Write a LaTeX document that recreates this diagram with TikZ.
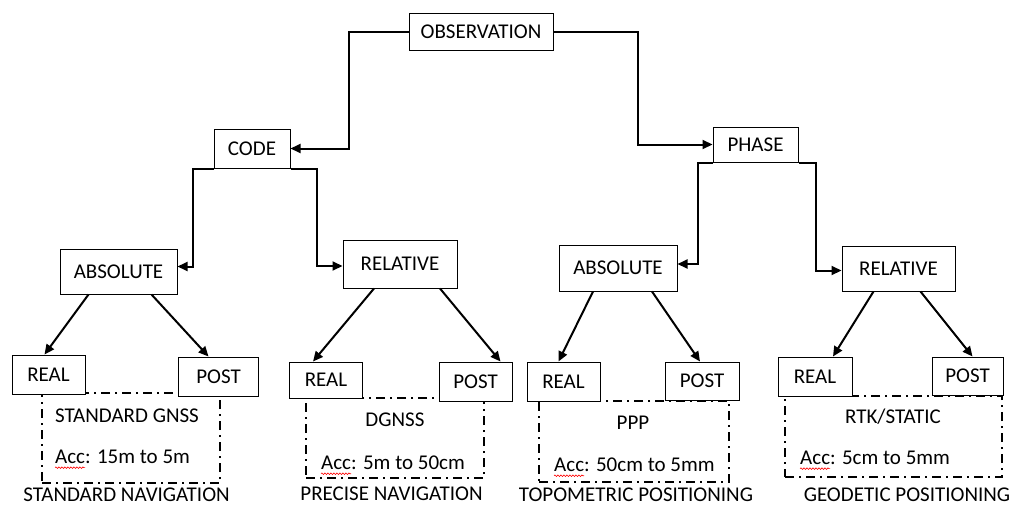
\documentclass[tikz,border=0pt]{standalone}
\usepackage{fontspec}
\setmainfont{Carlito}
\usepackage{tikz}
\usetikzlibrary{arrows.meta, decorations.pathmorphing}

\tikzset{
  box/.style={draw, line width=1pt, fill=white, inner sep=0pt},
  dashbox/.style={draw, line width=2.2pt, inner sep=0pt,
    dash pattern=on 9pt off 5pt on 2pt off 5pt},
  link/.style={->, line width=2pt},
  txt/.style={inner sep=0pt},
  spell/.style={red, line width=0.6pt, decorate,
    decoration={snake, amplitude=0.8pt, segment length=3pt}}
}

\begin{document}
\begin{tikzpicture}[x=1pt, y=-1pt, font=\fontsize{21}{24}\selectfont,
    >={Triangle[length=10pt, width=9pt]}]
    \useasboundingbox (0, 0) rectangle (1011, 506);

    % dashed groups
    \node[dashbox, minimum width=178, minimum height=90] at (131, 438) (grp1) {};
    \node[dashbox, minimum width=178, minimum height=80] at (395, 438) (grp2) {};
    \node[dashbox, minimum width=190, minimum height=81] at (634, 441.5) (grp3) {};
    \node[dashbox, minimum width=217, minimum height=81] at (893.5, 436.5) (grp4) {};

    % top levels
    \node[box, minimum width=144, minimum height=37] at (481, 31.5) (obs) {OBSERVATION};
    \node[box, minimum width=76, minimum height=39] at (252, 148.5) (code) {CODE};
    \node[box, minimum width=85, minimum height=35] at (755.5, 144.5) (phase) {PHASE};

    \node[box, minimum width=117, minimum height=45] at (118.5, 271.5) (abs1) {ABSOLUTE};
    \node[box, minimum width=114, minimum height=48] at (400, 264) (rel1) {RELATIVE};
    \node[box, minimum width=118, minimum height=46] at (618, 268) (abs2) {ABSOLUTE};
    \node[box, minimum width=113, minimum height=45] at (898.5, 268.5) (rel2) {RELATIVE};

    % leaves
    \node[box, minimum width=73, minimum height=39] at (48.5, 374.5) (real1) {REAL};
    \node[box, minimum width=80, minimum height=39] at (218.5, 376.5) (post1) {POST};
    \node[box, minimum width=73, minimum height=36] at (326, 380) (real2) {REAL};
    \node[box, minimum width=73, minimum height=39] at (475.5, 381.5) (post2) {POST};
    \node[box, minimum width=73, minimum height=39] at (563.5, 381.5) (real3) {REAL};
    \node[box, minimum width=74, minimum height=38] at (702, 381) (post3) {POST};
    \node[box, minimum width=74, minimum height=39] at (815, 376.5) (real4) {REAL};
    \node[box, minimum width=71, minimum height=38] at (967.5, 376) (post4) {POST};

    % texts in groups
    \node[txt] at (127, 416) (gnss) {STANDARD GNSS};
    \node[txt, anchor=west] at (55, 457) (acc1) {Acc: 15m to 5m};
    \node[txt] at (395, 420) (dgnss) {DGNSS};
    \node[txt, anchor=west] at (321, 463) (acc2) {Acc: 5m to 50cm};
    \node[txt] at (633, 423) (ppp) {PPP};
    \node[txt, anchor=west] at (554, 465) (acc3) {Acc: 50cm to 5mm};
    \node[txt] at (893, 417) (rtk) {RTK/STATIC};
    \node[txt, anchor=west] at (800, 458) (acc4) {Acc: 5cm to 5mm};

    \node[txt] at (126.5, 495) (nav1) {STANDARD NAVIGATION};
    \node[txt] at (391.5, 494) (nav2) {PRECISE NAVIGATION};
    \node[txt] at (636, 495) (topo) {TOPOMETRIC POSITIONING};
    \node[txt] at (907, 495) (geo) {GEODETIC POSITIONING};

    % spell check marks
    \foreach \a in {acc1, acc2, acc3, acc4}
        \draw[spell] ([yshift=-4]\a.base west) -- ++(30, 0);

    % elbows
    \draw[link] (obs.west) -- ++(-60, 0) |- (code.east);
    \draw[link] (obs.east) -- ++(84, 0) |- (phase.west);
    \draw[link] (code.south west) -- ++(-21, 0) |- ([yshift=5]abs1.east);
    \draw[link] (code.south east) -- ++(26, 0) |- ([yshift=-2]rel1.west);
    \draw[link] (phase.south west) -- ++(-15, 0) |- ([yshift=4]abs2.east);
    \draw[link] (phase.south east) -- ++(17, 0) |- ([yshift=-2]rel2.west);

    % diagonals
    \draw[link] ([xshift=-30]abs1.south) -- ([xshift=-4]real1.north);
    \draw[link] ([xshift=33]abs1.south) -- ([xshift=-10]post1.north);
    \draw[link] ([xshift=-26]rel1.south) -- ([xshift=-13]real2.north);
    \draw[link] ([xshift=40]rel1.south) -- ([xshift=25]post2.north);
    \draw[link] ([xshift=-25]abs2.south) -- ([xshift=-5]real3.north);
    \draw[link] ([xshift=34]abs2.south) -- ([xshift=-2]post3.north);
    \draw[link] ([xshift=-25]rel2.south) -- ([xshift=18]real4.north);
    \draw[link] ([xshift=22]rel2.south) -- ([xshift=5]post4.north);
\end{tikzpicture}
\end{document}
